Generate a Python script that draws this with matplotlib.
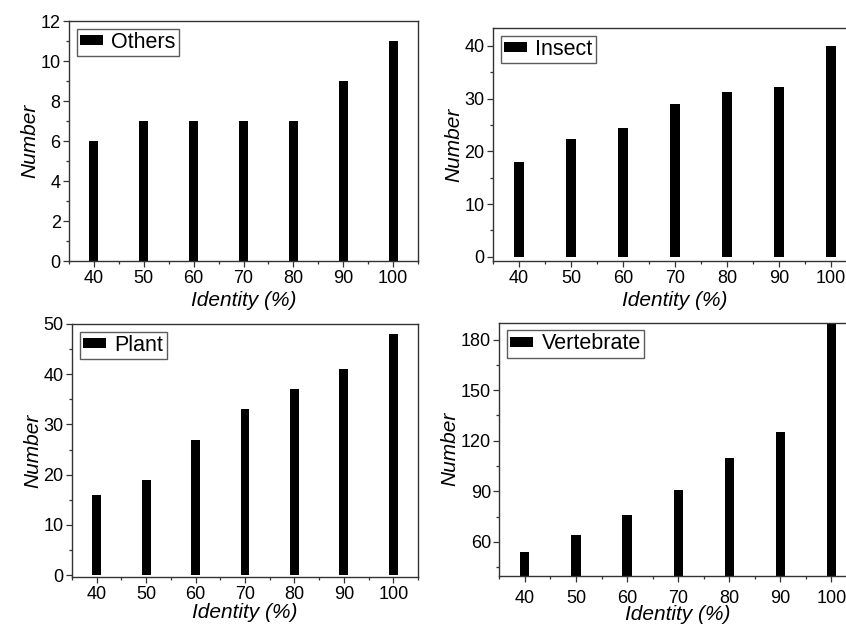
import matplotlib
matplotlib.use("Agg")
import matplotlib.pyplot as plt
from matplotlib.ticker import MultipleLocator

plt.rcParams['font.family'] = ['Liberation Sans', 'DejaVu Sans']

identity = [40, 50, 60, 70, 80, 90, 100]
others = [6, 7, 7, 7, 7, 9, 11]
insect = [18, 22.4, 24.5, 29, 31.2, 32.3, 40]
plant = [16, 19, 27, 33, 37, 41, 48]
vertebrate = [54, 64, 76, 91, 110, 125, 195]

panels = [
    # name, values, rect, ylim, major, minor, xpad, xlabelpad
    ("Others", others, [69/846, 1-261/624, 349/846, 240/624], (0, 12), 2, 1, 2.5, 3),
    ("Insect", insect, [493/846, 1-261/624, 364/846, 233/624], (-0.8, 43.4), 10, 5, 2.5, 3),
    ("Plant", plant, [72/846, 1-576.7/624, 346/846, 252.7/624], (-0.3, 50), 10, 5, 2.5, 0),
    ("Vertebrate", vertebrate, [499.3/846, 1-575.7/624, 357.7/846, 253/624], (40, 190), 30, 15, 6, -1),
]

fig = plt.figure(figsize=(8.46, 6.24), dpi=100)
for name, vals, rect, ylim, major, minor, xpad, xlp in panels:
    ax = fig.add_axes(rect)
    ax.bar(identity, vals, width=1.8, color='black', label=name, zorder=2)
    ax.set_xlim(35, 105)
    ax.set_ylim(*ylim)
    ax.xaxis.set_major_locator(MultipleLocator(10))
    ax.xaxis.set_minor_locator(MultipleLocator(5))
    ax.yaxis.set_major_locator(MultipleLocator(major))
    ax.yaxis.set_minor_locator(MultipleLocator(minor))
    ax.tick_params(which='major', direction='out', length=4, width=0.9, labelsize=13, pad=2, color='#333333')
    ax.tick_params(axis='x', which='major', pad=xpad)
    ax.tick_params(which='minor', direction='out', length=2.5, width=0.9, color='#333333')
    for s in ax.spines.values():
        s.set_linewidth(1.0)
        s.set_color('#333333')
    ax.set_xlabel("Identity (%)", fontsize=15, style='italic', labelpad=xlp)
    ax.set_ylabel("Number", fontsize=15, style='italic', labelpad=1)
    leg = ax.legend(loc='upper left', fontsize=15.5, frameon=True, fancybox=False,
                    handlelength=1.07, handleheight=0.33, handletextpad=0.4,
                    borderpad=0.15, borderaxespad=0.35)
    leg.get_frame().set_edgecolor('#333333')
    leg.get_frame().set_linewidth(1.0)

fig.savefig("out.png", dpi=100)
